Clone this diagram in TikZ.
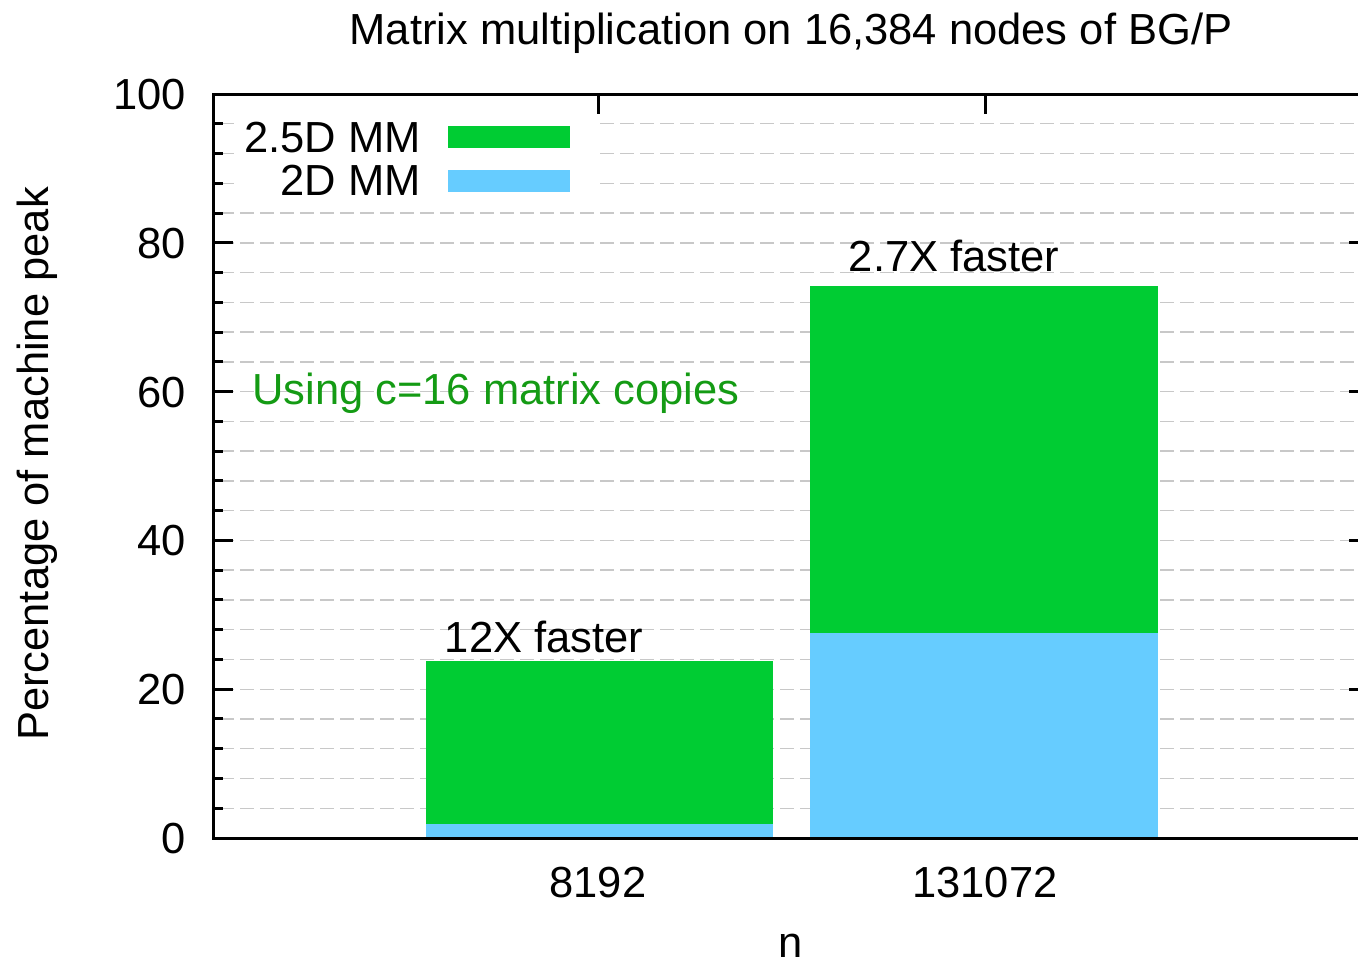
\documentclass[tikz,border=0pt]{standalone}
\usepackage{fontspec}
\setmainfont{Liberation Sans}
\definecolor{mmgreen}{RGB}{0,204,51}
\definecolor{mmblue}{RGB}{102,204,255}
\definecolor{gridgray}{RGB}{200,200,200}
\definecolor{notegreen}{RGB}{20,155,20}
\tikzset{
  lbl/.style={inner sep=0pt, font=\fontsize{43.5}{50}\selectfont},
  gridline/.style={gridgray, line width=1.4pt, dash pattern=on 14pt off 6pt},
  axisline/.style={black, line width=3pt},
  tickline/.style={black, line width=3pt},
}
% vertical position of a value on the percentage axis
\newcommand{\yv}[1]{838-7.44*#1}
\begin{document}
\begin{tikzpicture}[x=1pt,y=-1pt]
\useasboundingbox (0,0) rectangle (1358,964);

% dashed grid every 4 %
\foreach \v in {4,8,...,96}
  \draw[gridline] (220,{\yv{\v}}) -- (1358,{\yv{\v}});

% legend background hides the grid behind the keys
\fill[white] (240,106) rectangle (596,200);

% stacked bars
\fill[mmblue]  (426,838) rectangle (773,{\yv{1.9}});
\fill[mmgreen] (426,{\yv{1.9}}) rectangle (773,{\yv{23.8}});
\fill[mmblue]  (810,838) rectangle (1158,{\yv{27.55}});
\fill[mmgreen] (810,{\yv{27.55}}) rectangle (1158,{\yv{74.2}});

% frame
\draw[axisline] (1358,94) -- (213,94) -- (213,838) -- (1358,838);

% y ticks and labels
\foreach \v in {4,8,...,96}
  \draw[tickline] (213,{\yv{\v}}) -- (223,{\yv{\v}});
\foreach \v/\t in {0/0,20/20,40/40,60/60,80/80,100/100} {
  \draw[tickline] (213,{\yv{\v}}) -- (233,{\yv{\v}});
  \draw[tickline] (1349,{\yv{\v}}) -- (1358,{\yv{\v}});
  \node[lbl, anchor=base east] (ytick\v) at (186,{\yv{\v}+15.5}) {\t};
}

% x ticks and labels
\draw[tickline] (598,94) -- (598,114);
\draw[tickline] (985,94) -- (985,114);
\node[lbl, anchor=base] (xa) at (598,897) {8192};
\node[lbl, anchor=base] (xb) at (985,897) {131072};

% axis titles
\node[lbl, anchor=base] (title) at (791,44) {Matrix multiplication on 16,384 nodes of BG/P};
\node[lbl, anchor=base] (xlabel) at (791,957) {n};
\node[lbl, anchor=base, rotate=90] (ylabel) at (48,464) {Percentage of machine peak};

% legend
\node[lbl, anchor=base east] (key1) at (421,152) {2.5D MM};
\node[lbl, anchor=base east] (key2) at (421,195) {2D MM};
\fill[mmgreen] (448,126) rectangle (570,148);
\fill[mmblue]  (448,170) rectangle (570,192);

% annotations
\node[lbl, anchor=base] (note1) at (544,652) {12X faster};
\node[lbl, anchor=base] (note2) at (954,271) {2.7X faster};
\node[lbl, anchor=base, text=notegreen] (note3) at (496,404) {Using c=16 matrix copies};
\end{tikzpicture}
\end{document}
